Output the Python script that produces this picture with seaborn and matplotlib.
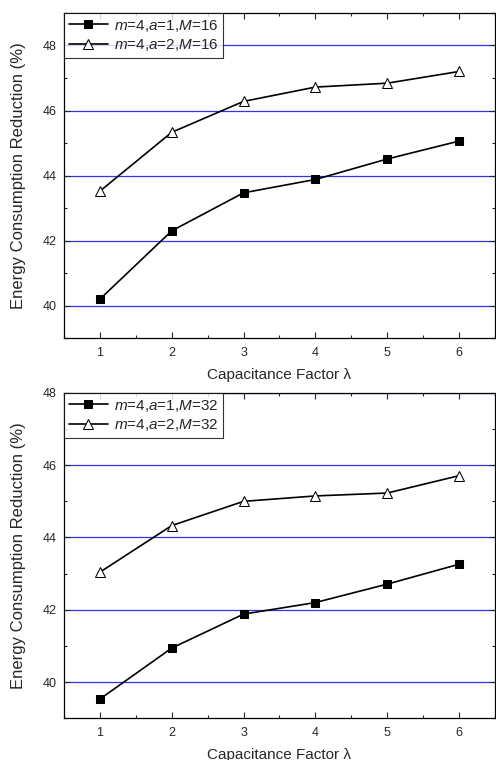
import numpy as np
import pandas as pd
import matplotlib
matplotlib.use('Agg')
import matplotlib.pyplot as plt
from matplotlib.ticker import MultipleLocator
import seaborn as sns

sns.set_style('ticks')
plt.rcParams['font.family'] = ['Liberation Sans', 'DejaVu Sans']
plt.rcParams['mathtext.fontset'] = 'custom'
plt.rcParams['mathtext.it'] = 'Liberation Sans:italic'
plt.rcParams['mathtext.rm'] = 'Liberation Sans'

lam = [1, 2, 3, 4, 5, 6]

# M=16 panel
top_a1 = [40.2, 42.3, 43.47, 43.88, 44.51, 45.06]
top_a2 = [43.52, 45.33, 46.28, 46.72, 46.84, 47.2]
# M=32 panel
bot_a1 = [39.53, 40.94, 41.88, 42.2, 42.71, 43.26]
bot_a2 = [43.04, 44.33, 45.0, 45.15, 45.23, 45.71]

labels_top = [r'$m$=4,$a$=1,$M$=16', r'$m$=4,$a$=2,$M$=16']
labels_bot = [r'$m$=4,$a$=1,$M$=32', r'$m$=4,$a$=2,$M$=32']

fig = plt.figure(figsize=(4.96, 7.6), dpi=100)
ax1 = fig.add_axes([0.129, 0.555, 0.869, 0.428])
ax2 = fig.add_axes([0.129, 0.055, 0.869, 0.428])


def draw(ax, s1, s2, labs, ylim):
    df = pd.DataFrame({'lam': lam * 2, 'val': s1 + s2,
                       'series': [labs[0]] * 6 + [labs[1]] * 6})
    for y in range(40, 49, 2):
        ax.axhline(y, color='#3333ee', lw=0.9, zorder=0)
    sns.lineplot(data=df[df.series == labs[0]], x='lam', y='val', ax=ax,
                 color='black', lw=1.2, marker='s', markersize=6,
                 markerfacecolor='black', markeredgecolor='black', label=labs[0])
    sns.lineplot(data=df[df.series == labs[1]], x='lam', y='val', ax=ax,
                 color='black', lw=1.2, marker='^', markersize=7,
                 markerfacecolor='white', markeredgecolor='black', label=labs[1])
    ax.set_xlim(0.5, 6.5)
    ax.set_ylim(*ylim)
    ax.set_xticks(lam)
    ax.set_yticks(range(40, 49, 2))
    ax.xaxis.set_minor_locator(MultipleLocator(0.5))
    ax.yaxis.set_minor_locator(MultipleLocator(1))
    ax.tick_params(which='both', direction='in', top=True, right=True, labelsize=9, width=0.8)
    ax.tick_params(which='major', length=4)
    ax.tick_params(which='minor', length=2.5)
    ax.tick_params(axis='x', pad=6)
    ax.tick_params(axis='y', pad=5)
    for sp in ax.spines.values():
        sp.set_linewidth(0.9)
        sp.set_color('black')
    ax.set_xlabel('Capacitance Factor λ', fontsize=11, labelpad=7)
    ax.set_ylabel('Energy Consumption Reduction (%)', fontsize=12, labelpad=12)
    leg = ax.legend(loc='upper left', fontsize=11, frameon=True, fancybox=False,
                    borderaxespad=0, handlelength=2.6, borderpad=0.3,
                    labelspacing=0.25, handletextpad=0.4)
    leg.get_frame().set_edgecolor('black')
    leg.get_frame().set_linewidth(0.8)


draw(ax1, top_a1, top_a2, labels_top, (39, 49))
draw(ax2, bot_a1, bot_a2, labels_bot, (39, 48))

fig.savefig('out.png', dpi=100)
